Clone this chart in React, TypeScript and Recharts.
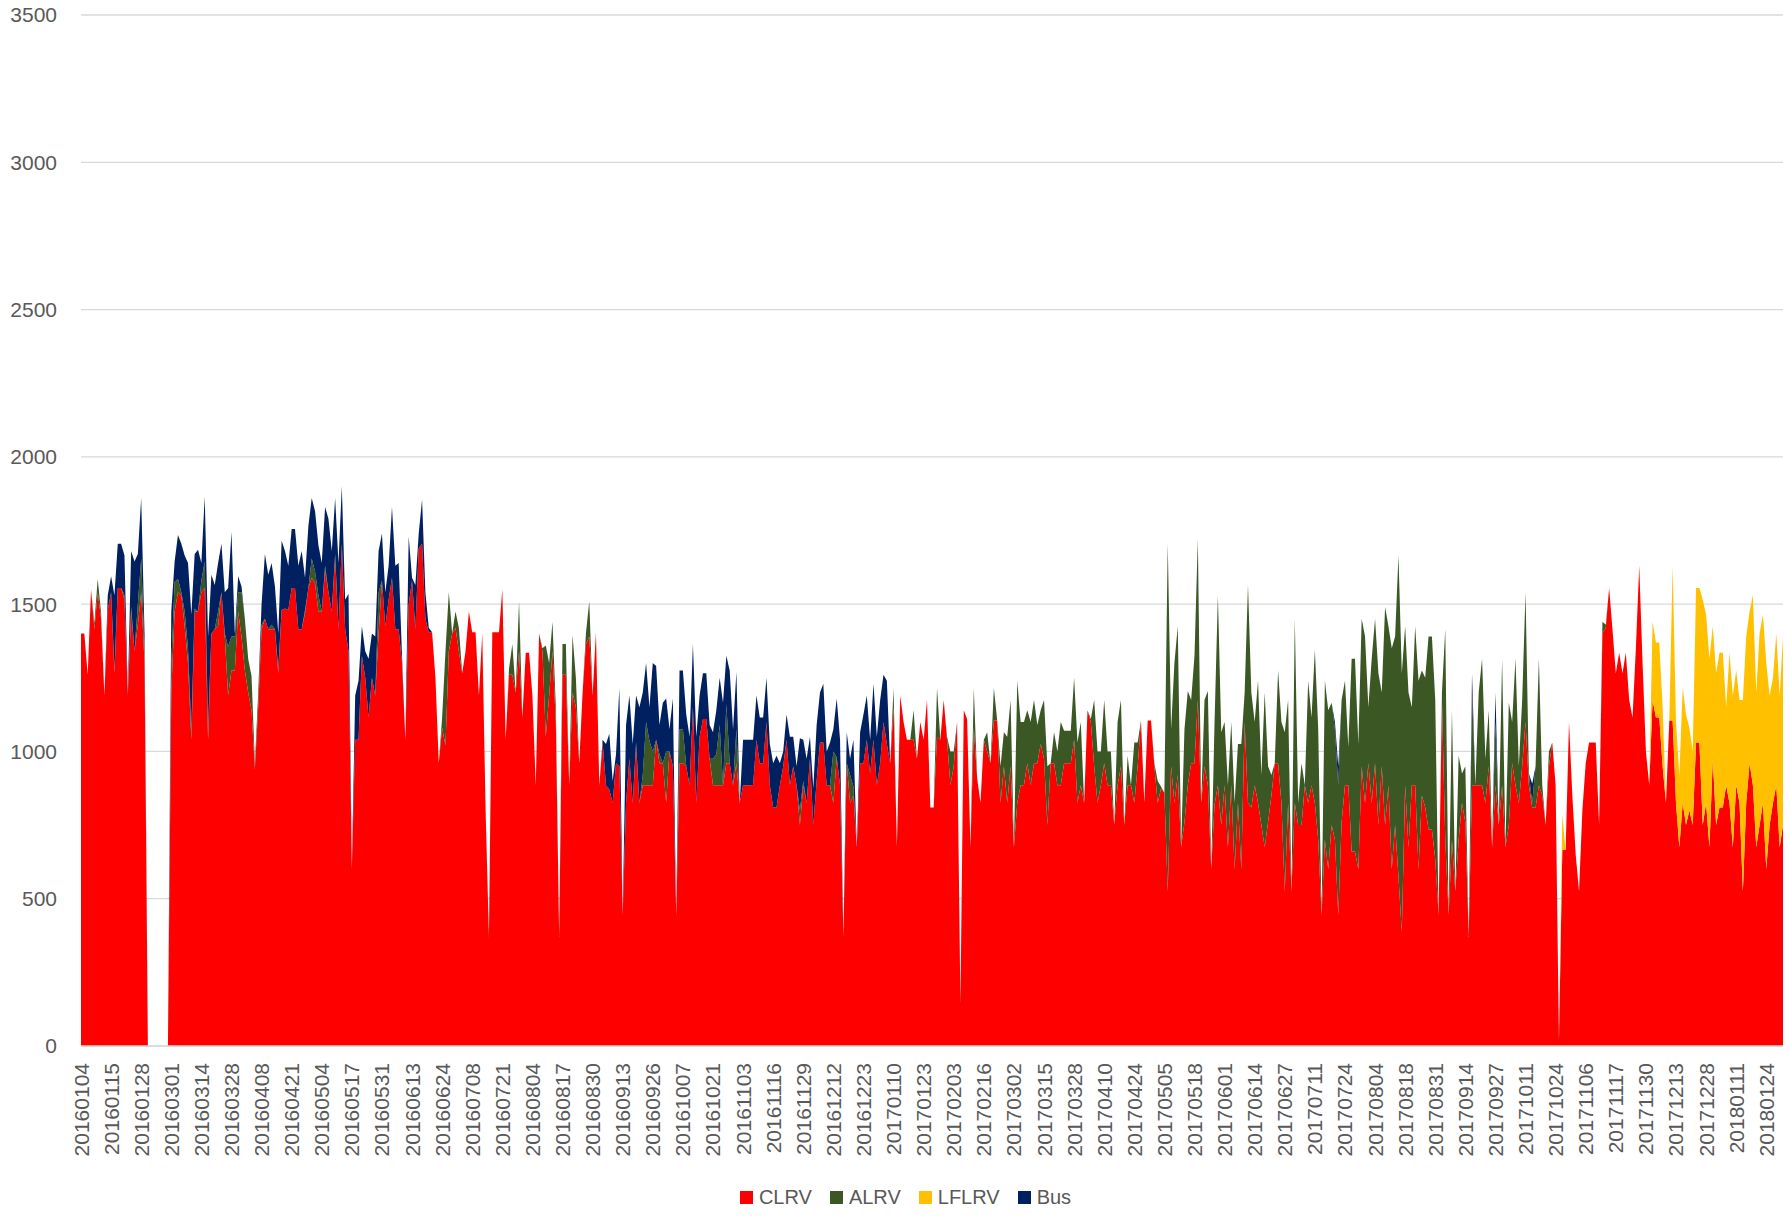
import { Area, AreaChart, CartesianGrid, Legend, XAxis, YAxis } from 'recharts'

// dates that carry a visible tick label (every 9th category)
const TICK_DATES = [
  '20160104', '20160115', '20160128', '20160301', '20160314', '20160328', '20160408', '20160421',
  '20160504', '20160517', '20160531', '20160613', '20160624', '20160708', '20160721', '20160804',
  '20160817', '20160830', '20160913', '20160926', '20161007', '20161021', '20161103', '20161116',
  '20161129', '20161212', '20161223', '20170110', '20170123', '20170203', '20170216', '20170302',
  '20170315', '20170328', '20170410', '20170424', '20170505', '20170518', '20170601', '20170614',
  '20170627', '20170711', '20170724', '20170804', '20170818', '20170831', '20170914', '20170927',
  '20171011', '20171024', '20171106', '20171117', '20171130', '20171213', '20171228', '20180111',
  '20180124',
]
const TAIL_DATES = ['20180125', '20180126', '20180129', '20180130', '20180131']

const CLRV = [
  1400, 1400, 1260, 1550, 1415, 1540, 1450, 1190, 1480, 1540,
  1265, 1555, 1555, 1515, 1190, 1475, 1340, 1430, 1540, 1300,
  0, 0, 0, 0, 0, 0, 0, 1200, 1475, 1540,
  1530, 1425, 1300, 1040, 1475, 1475, 1540, 1555, 1040, 1400,
  1415, 1425, 1540, 1390, 1190, 1275, 1275, 1475, 1390, 1275,
  1200, 1140, 940, 1150, 1415, 1450, 1415, 1415, 1415, 1265,
  1480, 1485, 1480, 1555, 1555, 1415, 1415, 1470, 1555, 1590,
  1570, 1475, 1475, 1615, 1540, 1475, 1660, 1415, 1705, 1415,
  1340, 600, 1040, 1040, 1325, 1250, 1115, 1250, 1190, 1400,
  1580, 1425, 1515, 1590, 1415, 1415, 1300, 1040, 1500, 1580,
  1415, 1690, 1705, 1450, 1405, 1405, 1250, 960, 1080, 1020,
  1340, 1400, 1420, 1340, 1265, 1340, 1475, 1405, 1405, 1190,
  1400, 800, 370, 1405, 1405, 1405, 1550, 1040, 1260, 1260,
  1200, 1340, 1115, 1335, 1335, 1190, 885, 1400, 1340, 1050,
  1190, 1340, 1100, 370, 1260, 1260, 885, 1200, 1150, 960,
  1200, 1365, 1390, 1190, 1405, 885, 1030, 885, 870, 825,
  960, 950, 445, 825, 975, 825, 1020, 825, 885, 885,
  885, 885, 1040, 960, 960, 825, 1000, 950, 445, 960,
  960, 950, 885, 1150, 825, 1050, 1110, 1110, 975, 885,
  885, 885, 885, 960, 960, 885, 960, 825, 885, 885,
  885, 885, 1040, 960, 960, 1100, 885, 810, 810, 885,
  950, 1040, 885, 950, 885, 750, 885, 825, 975, 750,
  900, 1030, 1030, 885, 885, 825, 980, 885, 370, 960,
  825, 850, 675, 960, 960, 1040, 925, 1040, 885, 960,
  1100, 1025, 960, 1150, 675, 1190, 1100, 1040, 1040, 1040,
  975, 1100, 1040, 1175, 810, 810, 1050, 1040, 1175, 1040,
  885, 950, 1100, 145, 1140, 1110, 675, 1080, 910, 825,
  1040, 1000, 960, 1105, 1105, 825, 950, 825, 950, 675,
  825, 885, 885, 960, 885, 960, 960, 1025, 975, 750,
  960, 960, 885, 885, 960, 960, 960, 1040, 825, 885,
  825, 1140, 1100, 950, 825, 885, 960, 885, 885, 750,
  885, 950, 750, 885, 885, 825, 950, 1105, 825, 1105,
  1105, 950, 825, 875, 860, 525, 950, 825, 920, 675,
  760, 885, 960, 960, 1175, 825, 950, 885, 600, 820,
  885, 750, 885, 675, 885, 600, 825, 600, 1100, 825,
  810, 885, 825, 750, 675, 760, 850, 960, 960, 825,
  525, 825, 525, 825, 750, 750, 885, 825, 885, 825,
  700, 445, 700, 600, 750, 700, 445, 760, 885, 885,
  660, 660, 600, 950, 825, 960, 825, 960, 750, 950,
  750, 885, 600, 750, 575, 385, 885, 675, 885, 885,
  600, 850, 810, 735, 735, 635, 445, 1175, 700, 445,
  700, 525, 700, 825, 760, 370, 885, 885, 885, 885,
  825, 950, 675, 885, 750, 885, 675, 750, 960, 885,
  825, 950, 1100, 885, 810, 810, 885, 850, 750, 950,
  1030, 885, 20, 665, 665, 1100, 850, 650, 525, 800,
  960, 1030, 1030, 1030, 750, 1400, 1420, 1555, 1415, 1265,
  1335, 1265, 1335, 1175, 1115, 1350, 1630, 1300, 1000, 885,
  1175, 1115, 1115, 950, 825, 1105, 1105, 825, 675, 825,
  750, 800, 750, 1030, 1030, 750, 825, 675, 975, 750,
  810, 810, 885, 825, 675, 885, 825, 525, 825, 960,
  885, 675, 750, 825, 600, 750, 825, 885, 675, 750,
]

const ALRV = [
  0, 0, 0, 0, 20, 45, 20, 0, 0, 0,
  15, 0, 0, 15, 0, 15, 0, 70, 115, 40,
  0, 0, 0, 0, 0, 0, 0, 100, 100, 45,
  10, 50, 50, 35, 10, 0, 40, 90, 35, 0,
  0, 50, 0, 10, 165, 115, 115, 65, 150, 175,
  115, 115, 20, 50, 15, 0, 0, 15, 0, 15,
  0, 0, 0, 0, 0, 0, 0, 10, 0, 65,
  40, 55, 0, 15, 0, 0, 10, 0, 0, 0,
  0, 0, 0, 0, 0, 0, 0, 0, 0, 140,
  0, 0, 0, 0, 0, 0, 0, 0, 0, 0,
  0, 0, 0, 0, 0, 0, 0, 0, 35, 320,
  200, 0, 55, 80, 0, 0, 0, 0, 0, 0,
  0, 0, 0, 0, 0, 0, 0, 0, 20, 105,
  0, 170, 0, 0, 0, 0, 0, 0, 10, 310,
  110, 100, 50, 0, 105, 105, 0, 195, 100, 0,
  0, 35, 120, 0, 0, 0, 0, 0, 0, 0,
  0, 0, 0, 0, 0, 0, 10, 0, 35, 215,
  150, 115, 0, 30, 0, 175, 0, 0, 0, 115,
  115, 0, 0, 0, 0, 0, 0, 0, 0, 90,
  105, 205, 0, 200, 0, 0, 115, 0, 0, 0,
  0, 0, 0, 0, 0, 0, 0, 0, 0, 0,
  0, 0, 0, 0, 0, 50, 15, 0, 0, 0,
  0, 0, 0, 0, 0, 175, 0, 0, 0, 0,
  95, 30, 0, 0, 0, 0, 0, 0, 0, 0,
  0, 0, 0, 65, 0, 0, 0, 0, 0, 100,
  0, 0, 0, 0, 0, 0, 165, 0, 0, 10,
  115, 50, 0, 0, 0, 0, 0, 135, 0, 0,
  0, 65, 0, 110, 0, 125, 115, 225, 225, 0,
  415, 215, 215, 180, 215, 215, 130, 115, 200, 200,
  0, 105, 115, 215, 110, 110, 110, 210, 205, 215,
  0, 0, 10, 225, 175, 115, 215, 115, 115, 0,
  215, 225, 0, 100, 0, 205, 80, 0, 0, 0,
  0, 10, 75, 5, 0, 1180, 125, 475, 505, 0,
  315, 320, 215, 365, 545, 0, 225, 320, 0, 280,
  645, 315, 215, 210, 215, 225, 200, 425, 100, 740,
  390, 215, 415, 170, 525, 190, 70, 0, 315, 275,
  540, 350, 0, 625, 75, 210, 0, 415, 230, 520,
  375, 0, 540, 540, 415, 375, 440, 415, 355, 130,
  655, 655, 425, 500, 565, 190, 490, 490, 515, 250,
  740, 540, 750, 640, 1090, 880, 540, 525, 265, 540,
  640, 425, 440, 655, 655, 540, 0, 25, 715, 0,
  440, 0, 285, 100, 190, 0, 315, 0, 315, 430,
  150, 190, 0, 215, 0, 430, 0, 415, 140, 430,
  125, 225, 440, 40, 15, 140, 430, 35, 0, 50,
  0, 0, 0, 0, 0, 0, 0, 0, 0, 0,
  0, 0, 0, 0, 0, 40, 10, 0, 0, 0,
  0, 0, 0, 0, 0, 0, 0, 0, 0, 0,
  0, 0, 0, 0, 0, 0, 0, 0, 0, 0,
  0, 0, 0, 0, 0, 0, 0, 0, 0, 0,
  0, 0, 0, 0, 0, 0, 0, 0, 0, 0,
  0, 0, 0, 0, 0, 0, 0, 0, 0, 0,
]

const LFLRV = [
  0, 0, 0, 0, 0, 0, 0, 0, 0, 0,
  0, 0, 0, 0, 0, 0, 0, 0, 0, 0,
  0, 0, 0, 0, 0, 0, 0, 0, 0, 0,
  0, 0, 0, 0, 0, 0, 0, 0, 0, 0,
  0, 0, 0, 0, 0, 0, 0, 0, 0, 0,
  0, 0, 0, 0, 0, 0, 0, 0, 0, 0,
  0, 0, 0, 0, 0, 0, 0, 0, 0, 0,
  0, 0, 0, 0, 0, 0, 0, 0, 0, 0,
  0, 0, 0, 0, 0, 0, 0, 0, 0, 0,
  0, 0, 0, 0, 0, 0, 0, 0, 0, 0,
  0, 0, 0, 0, 0, 0, 0, 0, 0, 0,
  0, 0, 0, 0, 0, 0, 0, 0, 0, 0,
  0, 0, 0, 0, 0, 0, 0, 0, 0, 0,
  0, 0, 0, 0, 0, 0, 0, 0, 0, 0,
  0, 0, 0, 0, 0, 0, 0, 0, 0, 0,
  0, 0, 0, 0, 0, 0, 0, 0, 0, 0,
  0, 0, 0, 0, 0, 0, 0, 0, 0, 0,
  0, 0, 0, 0, 0, 0, 0, 0, 0, 0,
  0, 0, 0, 0, 0, 0, 0, 0, 0, 0,
  0, 0, 0, 0, 0, 0, 0, 0, 0, 0,
  0, 0, 0, 0, 0, 0, 0, 0, 0, 0,
  0, 0, 0, 0, 0, 0, 0, 0, 0, 0,
  0, 0, 0, 0, 0, 0, 0, 0, 0, 0,
  0, 0, 0, 0, 0, 0, 0, 0, 0, 0,
  0, 0, 0, 0, 0, 0, 0, 0, 0, 0,
  0, 0, 0, 0, 0, 0, 0, 0, 0, 0,
  0, 0, 0, 0, 0, 0, 0, 0, 0, 0,
  0, 0, 0, 0, 0, 0, 0, 0, 0, 0,
  0, 0, 0, 0, 0, 0, 0, 0, 0, 0,
  0, 0, 0, 0, 0, 0, 0, 0, 0, 0,
  0, 0, 0, 0, 0, 0, 0, 0, 0, 0,
  0, 0, 0, 0, 0, 0, 0, 0, 0, 0,
  0, 0, 0, 0, 0, 0, 0, 0, 0, 0,
  0, 0, 0, 0, 0, 0, 0, 0, 0, 0,
  0, 0, 0, 0, 0, 0, 0, 0, 0, 0,
  0, 0, 0, 0, 0, 0, 0, 0, 0, 0,
  0, 0, 0, 0, 0, 0, 0, 0, 0, 0,
  0, 0, 0, 0, 0, 0, 0, 0, 0, 0,
  0, 0, 0, 0, 0, 0, 0, 0, 0, 0,
  0, 0, 0, 0, 0, 0, 0, 0, 0, 0,
  0, 0, 0, 0, 0, 0, 0, 0, 0, 0,
  0, 0, 0, 0, 0, 0, 0, 0, 0, 0,
  0, 0, 0, 0, 0, 0, 0, 0, 0, 0,
  0, 0, 0, 0, 0, 0, 0, 0, 0, 0,
  0, 0, 0, 120, 0, 0, 0, 0, 0, 0,
  0, 0, 0, 0, 0, 0, 0, 0, 0, 0,
  0, 0, 0, 0, 0, 0, 0, 0, 0, 0,
  265, 255, 255, 200, 0, 0, 525, 275, 245, 390,
  375, 280, 250, 525, 525, 765, 640, 640, 450, 515,
  525, 525, 265, 510, 515, 390, 350, 650, 565, 515,
  645, 525, 650, 640, 700, 440, 425, 515, 515, 640,
]

const BUS = [
  0, 0, 0, 0, 0, 0, 0, 0, 50, 55,
  250, 150, 150, 135, 10, 190, 305, 170, 205, 60,
  0, 0, 0, 0, 0, 0, 0, 175, 70, 150,
  165, 190, 290, 390, 185, 210, 60, 220, 315, 200,
  150, 165, 165, 140, 200, 355, 10, 55, 20, 0,
  0, 0, 0, 0, 70, 220, 185, 210, 145, 120,
  235, 195, 150, 200, 200, 215, 265, 110, 210, 205,
  205, 170, 165, 200, 250, 205, 190, 225, 195, 100,
  195, 5, 150, 200, 100, 90, 200, 150, 200, 140,
  160, 115, 115, 240, 215, 225, 25, 0, 230, 10,
  150, 50, 150, 90, 15, 0, 0, 0, 0, 0,
  0, 0, 0, 0, 0, 0, 0, 0, 0, 0,
  0, 0, 0, 0, 0, 0, 0, 0, 0, 0,
  0, 0, 0, 0, 0, 0, 0, 0, 0, 0,
  0, 0, 0, 0, 0, 0, 0, 0, 0, 0,
  0, 0, 0, 0, 0, 0, 10, 140, 190, 75,
  30, 265, 0, 265, 215, 200, 160, 325, 280, 200,
  115, 300, 250, 100, 205, 180, 75, 230, 0, 200,
  200, 175, 165, 215, 225, 140, 155, 155, 115, 90,
  150, 160, 280, 165, 315, 190, 195, 0, 155, 155,
  155, 155, 150, 155, 155, 150, 140, 150, 175, 75,
  50, 85, 165, 100, 65, 245, 140, 150, 75, 125,
  190, 170, 200, 115, 145, 75, 200, 155, 0, 105,
  55, 160, 0, 105, 165, 150, 115, 190, 165, 215,
  160, 215, 0, 0, 0, 0, 0, 0, 0, 0,
  0, 0, 0, 0, 0, 0, 0, 0, 0, 0,
  0, 0, 0, 0, 0, 0, 0, 0, 0, 0,
  0, 0, 0, 0, 0, 0, 0, 0, 0, 0,
  0, 0, 0, 0, 0, 0, 0, 0, 0, 0,
  0, 0, 0, 0, 0, 0, 0, 0, 0, 0,
  0, 0, 0, 0, 0, 0, 0, 0, 0, 0,
  0, 0, 0, 0, 0, 0, 0, 0, 0, 0,
  0, 0, 0, 0, 0, 0, 0, 0, 0, 0,
  0, 0, 0, 0, 0, 0, 0, 0, 0, 0,
  0, 0, 0, 0, 0, 0, 0, 0, 0, 0,
  0, 0, 0, 0, 0, 0, 0, 0, 0, 0,
  0, 0, 0, 0, 0, 0, 0, 0, 0, 0,
  0, 0, 0, 0, 0, 25, 65, 0, 0, 0,
  0, 0, 0, 0, 0, 0, 0, 0, 0, 0,
  0, 0, 0, 0, 0, 0, 0, 0, 0, 0,
  0, 0, 0, 0, 0, 0, 0, 0, 0, 0,
  0, 0, 0, 0, 0, 0, 65, 0, 0, 0,
  0, 0, 0, 100, 0, 0, 0, 0, 0, 0,
  0, 0, 0, 0, 65, 0, 0, 0, 0, 0,
  0, 0, 0, 0, 0, 0, 0, 0, 0, 0,
  0, 0, 0, 0, 0, 0, 0, 0, 0, 0,
  0, 0, 0, 0, 0, 0, 0, 0, 0, 0,
  0, 0, 0, 0, 0, 0, 0, 0, 0, 0,
  0, 0, 0, 0, 0, 0, 0, 0, 0, 0,
  0, 0, 0, 0, 0, 0, 0, 0, 0, 0,
  0, 0, 0, 0, 0, 0, 0, 0, 0, 0,
]

const Y_TICKS = [0, 500, 1000, 1500, 2000, 2500, 3000, 3500]

const SERIES = [
  { key: 'CLRV', color: '#ff0000' },
  { key: 'ALRV', color: '#3a5724' },
  { key: 'LFLRV', color: '#ffc000' },
  { key: 'Bus', color: '#002060' },
]

const FONT = '"Liberation Sans", Arial, sans-serif'
const TEXT = '#595959'

// the labelled date plus the 8 weekdays after it
function weekdaysAfter(start: string, count: number): string[] {
  const d = new Date(Date.UTC(+start.slice(0, 4), +start.slice(4, 6) - 1, +start.slice(6, 8)))
  const out: string[] = []
  while (out.length < count) {
    d.setUTCDate(d.getUTCDate() + 1)
    const wd = d.getUTCDay()
    if (wd === 0 || wd === 6) continue
    const y = d.getUTCFullYear()
    const m = String(d.getUTCMonth() + 1).padStart(2, '0')
    const day = String(d.getUTCDate()).padStart(2, '0')
    out.push(`${y}${m}${day}`)
  }
  return out
}

const DATES: string[] = []
TICK_DATES.forEach((t, i) => {
  DATES.push(t)
  if (i < TICK_DATES.length - 1) DATES.push(...weekdaysAfter(t, 8))
})
DATES.push(...TAIL_DATES)

const data = DATES.map((date, i) => ({
  date,
  CLRV: CLRV[i] ?? 0,
  ALRV: ALRV[i] ?? 0,
  LFLRV: LFLRV[i] ?? 0,
  Bus: BUS[i] ?? 0,
}))

function DateTick({ x, y, payload }: any) {
  return (
    <text
      x={x}
      y={y}
      transform={`rotate(-90, ${x}, ${y})`}
      textAnchor="end"
      dominantBaseline="central"
      fill={TEXT}
      fontSize={21}
      fontFamily={FONT}
    >
      {payload.value}
    </text>
  )
}

function LegendContent() {
  return (
    <div
      style={{
        height: 24,
        display: 'flex',
        justifyContent: 'center',
        alignItems: 'center',
        gap: 18,
        paddingLeft: 28,
        fontFamily: FONT,
        fontSize: 20,
        color: TEXT,
      }}
    >
      {SERIES.map((s) => (
        <span key={s.key} style={{ display: 'flex', alignItems: 'center', gap: 6 }}>
          <span style={{ width: 13, height: 13, background: s.color, display: 'inline-block' }} />
          {s.key}
        </span>
      ))}
    </div>
  )
}

export default function App() {
  return (
    <div style={{ position: 'absolute', left: 0, top: 0, width: 1790, height: 1217, background: '#fff' }}>
      <AreaChart width={1790} height={1217} data={data} margin={{ top: 15, right: 7, bottom: 8, left: 0 }}>
        <CartesianGrid vertical={false} stroke="#d9d9d9" strokeWidth={1.3} />
        <XAxis
          dataKey="date"
          interval={8}
          height={139}
          tick={<DateTick />}
          tickLine={false}
          tickSize={6}
          tickMargin={11}
          axisLine={{ stroke: '#d9d9d9', strokeWidth: 1.3 }}
        />
        <YAxis
          width={81}
          domain={[0, 3500]}
          ticks={Y_TICKS}
          interval={0}
          tickLine={false}
          axisLine={false}
          tickSize={6}
          tickMargin={18}
          tick={{ fill: TEXT, fontSize: 21, fontFamily: FONT }}
        />
        <Legend verticalAlign="bottom" content={<LegendContent />} />
        {SERIES.map((s) => (
          <Area
            key={s.key}
            dataKey={s.key}
            stackId="1"
            type="linear"
            fill={s.color}
            fillOpacity={1}
            stroke="none"
            isAnimationActive={false}
          />
        ))}
      </AreaChart>
    </div>
  )
}
